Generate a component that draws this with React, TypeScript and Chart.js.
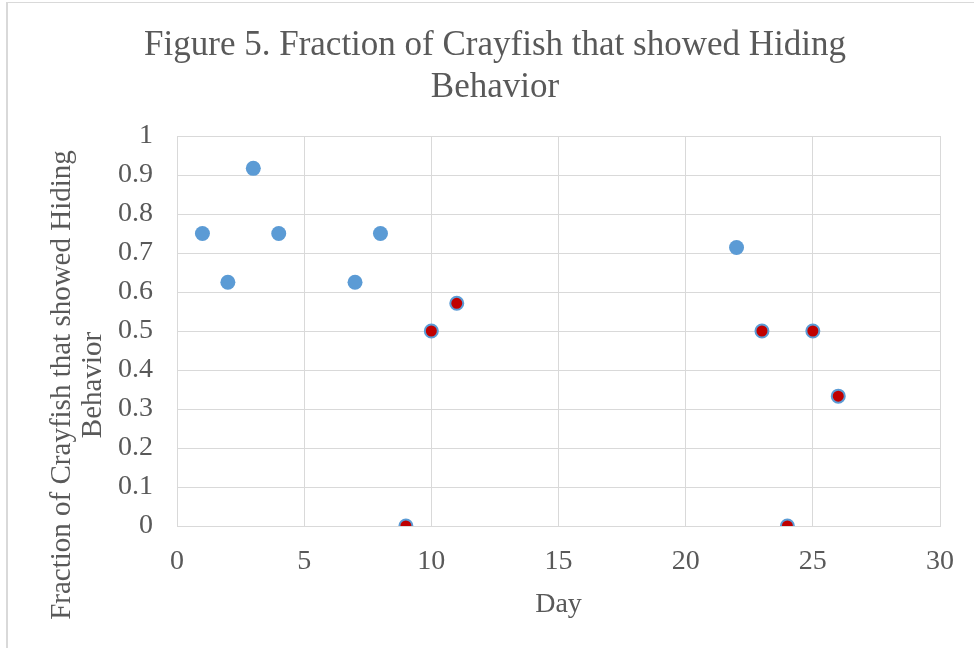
import React, { useEffect, useRef } from "react";
import { Chart, registerables } from "chart.js";

Chart.register(...registerables);

const titleLines = ["Figure 5. Fraction of Crayfish that showed Hiding", "Behavior"];
const yTitleLines = ["Fraction of Crayfish that showed Hiding", "Behavior"];
const xTitle = "Day";

const blueDays = [1, 2, 3, 4, 7, 8, 22];
const blueValues = [0.75, 0.625, 0.917, 0.75, 0.625, 0.75, 0.714];
const redDays = [9, 10, 11, 23, 24, 25, 26];
const redValues = [0, 0.5, 0.571, 0.5, 0, 0.5, 0.333];

const TEXT = "#595959";
const GRID = "#d9d9d9";
const FONT = '"Liberation Serif", "Times New Roman", serif';

export default function App() {
  const ref = useRef<HTMLCanvasElement | null>(null);

  useEffect(() => {
    if (!ref.current) return;
    const yTitlePlugin = {
      id: "yTitle",
      afterDraw(chart: any) {
        const ctx = chart.ctx;
        ctx.save();
        ctx.font = `29px ${FONT}`;
        ctx.fillStyle = TEXT;
        ctx.textAlign = "center";
        ctx.textBaseline = "middle";
        ctx.translate(62, 385);
        ctx.rotate(-Math.PI / 2);
        yTitleLines.forEach((l, i) => ctx.fillText(l, 0, i * 31));
        ctx.restore();
      },
    };
    const chart = new Chart(ref.current, {
      type: "scatter",
      data: {
        datasets: [
          {
            label: "a",
            data: blueDays.map((d, i) => ({ x: d, y: blueValues[i] })),
            backgroundColor: "#5b9bd5",
            borderColor: "#5b9bd5",
            borderWidth: 0,
            pointRadius: 7.5,
          },
          {
            label: "b",
            data: redDays.map((d, i) => ({ x: d, y: redValues[i] })),
            backgroundColor: "#c00000",
            borderColor: "#5b9bd5",
            borderWidth: 2,
            pointRadius: 6.5,
          },
        ],
      },
      plugins: [yTitlePlugin],
      options: {
        animation: false,
        responsive: false,
        layout: { padding: { left: 50, right: 34, top: 0, bottom: 0 } },
        plugins: {
          legend: { display: false },
          tooltip: { enabled: false },
          title: {
            display: true,
            text: titleLines,
            color: TEXT,
            font: { family: FONT, size: 35, weight: "normal", lineHeight: 1.2 },
            padding: { top: 25, bottom: 27 },
          },
        },
        scales: {
          x: {
            type: "linear",
            min: 0,
            max: 30,
            afterFit(scale: any) {
              scale.height = 122;
            },
            ticks: {
              stepSize: 5,
              color: TEXT,
              padding: 19,
              font: { family: FONT, size: 28 },
            },
            grid: { color: GRID, lineWidth: 1, drawTicks: false },
            border: { color: GRID },
            title: {
              display: true,
              text: xTitle,
              color: TEXT,
              font: { family: FONT, size: 28 },
              padding: { top: 0, bottom: 27 },
            },
          },
          y: {
            type: "linear",
            min: 0,
            max: 1,
            afterFit(scale: any) {
              scale.width = 127;
            },
            ticks: {
              stepSize: 0.1,
              color: TEXT,
              padding: 24,
              font: { family: FONT, size: 28 },
              callback: (v: any) => String(Number(Number(v).toFixed(1))),
            },
            grid: { color: GRID, lineWidth: 1, drawTicks: false },
            border: { color: GRID },
          },
        },
      },
    });
    return () => chart.destroy();
  }, []);

  return (
    <div style={{ position: "fixed", left: 0, top: 0, width: 974, height: 648, overflow: "hidden", background: "#fff" }}>
      <div
        style={{
          position: "absolute",
          left: 6,
          top: 2,
          width: 1000,
          height: 700,
          borderLeft: "2px solid #d9d9d9",
          borderTop: "1px solid #d9d9d9",
        }}
      />
      <canvas ref={ref} width={974} height={648} style={{ position: "absolute", left: 0, top: 0 }} />
    </div>
  );
}
